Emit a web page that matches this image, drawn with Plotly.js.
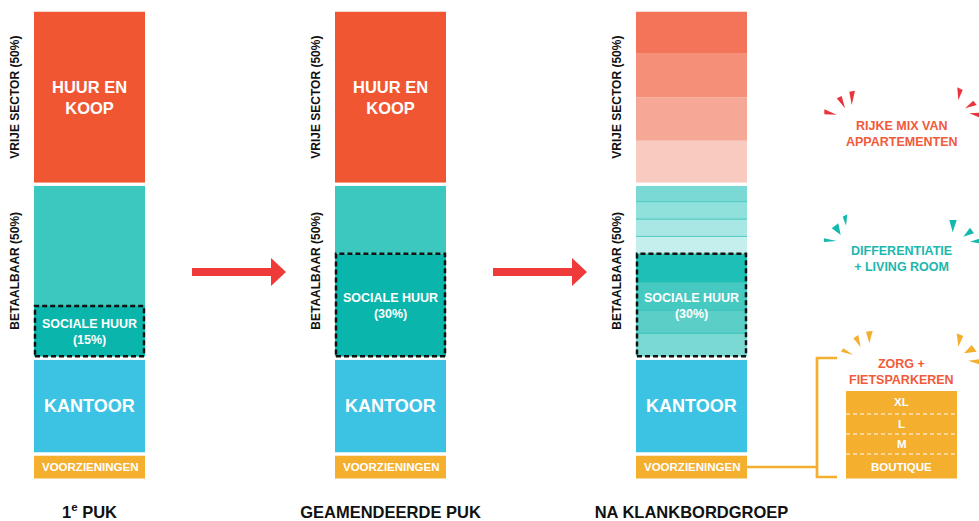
<!DOCTYPE html>
<html><head><meta charset="utf-8">
<script src="https://cdn.plot.ly/plotly-3.0.1.min.js"></script>
<style>html,body{margin:0;padding:0;background:#fff}#chart{width:979px;height:521px}</style>
</head><body><div id="chart"></div>
<script>
// ---------- data ----------
const COLUMNS = ['1<sup>e</sup> PUK', 'GEAMENDEERDE PUK', 'NA KLANKBORDGROEP'];
const VOORZIENINGEN = [7.5, 7.5, 7.5];
const KANTOOR = [27.5, 27.5, 27.5];
const BETAALBAAR = [50, 50, 50];
const SOCIALE_HUUR = [15, 30, 30];
const VRIJE_SECTOR = [50, 50, 50];
// split of the last column (bottom to top)
const NA_SOCIAAL_BANDS = [7.2, 6.6, 8, 8.2];
const NA_BETAALBAAR_BANDS = [5, 5, 5, 5];
const NA_VRIJE_BANDS = [12.5, 12.5, 12.5, 12.5];
const ZORG_LABELS = ['BOUTIQUE', 'M', 'L', 'XL'];
const ZORG_BANDS = [7.5, 5.75, 5.75, 7];
const VRIJE_TEXT = ['HUUR EN<br>KOOP', 'HUUR EN<br>KOOP', ''];
const SOCIAAL_TEXT = ['SOCIALE HUUR<br>(15%)', 'SOCIALE HUUR<br>(30%)', 'SOCIALE HUUR<br>(30%)'];
const KANTOOR_TEXT = 'KANTOOR';
const VOORZ_TEXT = 'VOORZIENINGEN';
const GROUP_LABELS = ['VRIJE SECTOR (50%)', 'BETAALBAAR (50%)'];
const INFO_LABELS = ['RIJKE MIX VAN<br>APPARTEMENTEN', 'DIFFERENTIATIE<br>+ LIVING ROOM', 'ZORG +<br>FIETSPARKEREN'];

// ---------- styling / layout ----------
const FONT = 'Liberation Sans, Arial, sans-serif';
const C = {
  red: '#F15633', teal: '#3DC8BF', social: '#0AB5AB', blue: '#3CC3E3', orange: '#F4AF2F',
  redBands: ['#F9CBC0', '#F6A897', '#F58F78', '#F37459'],
  tealBands: ['#C4EFEC', '#A8E7E3', '#90E0DC', '#7AD9D4'],
  socialBands: ['#7BD9D3', '#5BCFC7', '#46C9C0', '#1EC0B6'],
  arrow: '#EE3A39', burstRed: '#E8343B', burstTeal: '#15B8AE',
  infoRed: '#F15A3B', infoTeal: '#1DB7AD'
};
const PLOT_H = 480, PXU = 3.48, COLPX = 301, C0PX = 89.5;
const XR = [-C0PX / COLPX, (979 - C0PX) / COLPX];
const px2x = p => (p - C0PX) / COLPX;
const px2y = p => (PLOT_H - p) / PXU;
const dx = p => p / COLPX, dy = p => p / PXU;
const BAR_W = dx(114);
const INFO_X = px2x(901.5);

const traces = [];
const shapes = [];
const annotations = [];
function seg(x, base, h, color, line) {
  traces.push({type: 'bar', x: [x], y: [h], base: [base], width: [BAR_W],
    marker: {color: color, line: line || {width: 0}}, hoverinfo: 'skip', showlegend: false});
}
function outline(x, base, h) {
  traces.push({type: 'bar', x: [x], y: [h], base: [base], width: [BAR_W],
    marker: {color: 'rgba(0,0,0,0)', line: {color: '#ffffff', width: 3}}, hoverinfo: 'skip', showlegend: false});
}
function stackBands(x, base, bands, colors, line) {
  let b = base;
  bands.forEach((h, k) => { seg(x, b, h, colors[k], line); b += h; });
}
function label(x, y, text, size, color, extra) {
  annotations.push(Object.assign({x: x, y: y, xref: 'x', yref: 'y', text: text, showarrow: false,
    font: {family: FONT, size: size, color: color, weight: 'bold'}}, extra || {}));
}

COLUMNS.forEach((name, i) => {
  const b1 = VOORZIENINGEN[i];
  const b2 = b1 + KANTOOR[i];
  const b3 = b2 + BETAALBAAR[i];
  seg(i, 0, VOORZIENINGEN[i], C.orange);
  seg(i, b1, KANTOOR[i], C.blue);
  if (i < 2) {
    seg(i, b2, SOCIALE_HUUR[i], C.social);
    seg(i, b2 + SOCIALE_HUUR[i], BETAALBAAR[i] - SOCIALE_HUUR[i], C.teal);
    seg(i, b3, VRIJE_SECTOR[i], C.red);
  } else {
    stackBands(i, b2, NA_SOCIAAL_BANDS, C.socialBands, {color: '#3CC3BA', width: 1});
    stackBands(i, b2 + SOCIALE_HUUR[i], NA_BETAALBAAR_BANDS, C.tealBands, {color: '#55CCC4', width: 1});
    stackBands(i, b3, NA_VRIJE_BANDS, C.redBands);
  }
  outline(i, 0, VOORZIENINGEN[i]);
  outline(i, b1, KANTOOR[i]);
  outline(i, b2, BETAALBAAR[i]);
  outline(i, b3, VRIJE_SECTOR[i]);

  // dashed box around sociale huur
  shapes.push({type: 'rect', xref: 'x', yref: 'y',
    x0: i - BAR_W / 2 + dx(2.5), x1: i + BAR_W / 2 - dx(2.5),
    y0: b2 + dy(2), y1: b2 + SOCIALE_HUUR[i],
    line: {color: '#111111', width: 2.5, dash: '5px,3px'}, fillcolor: 'rgba(0,0,0,0)'});

  // in-bar labels
  label(i, b1 / 2, VOORZ_TEXT, 11.5, '#ffffff');
  label(i, b1 + KANTOOR[i] / 2, KANTOOR_TEXT, 18, '#ffffff');
  label(i, b2 + SOCIALE_HUUR[i] / 2, SOCIAAL_TEXT[i], 12.5, '#ffffff');
  if (VRIJE_TEXT[i]) label(i, b3 + VRIJE_SECTOR[i] / 2, VRIJE_TEXT[i], 16.5, '#ffffff');

  // rotated group labels
  label(i - BAR_W / 2, b3 + VRIJE_SECTOR[i] / 2, GROUP_LABELS[0], 12, '#111111', {textangle: -90, xshift: -17});
  label(i - BAR_W / 2, b2 + BETAALBAAR[i] / 2, GROUP_LABELS[1], 12, '#111111', {textangle: -90, xshift: -17});

  // arrows between columns
  if (i < COLUMNS.length - 1) {
    const s = i + dx(102.5), e = i + dx(181.5), t = i + dx(196.5);
    const yc = px2y(272);
    const p = [[s, yc + dy(4)], [e, yc + dy(4)], [e, yc + dy(14)], [t, yc], [e, yc - dy(14)], [e, yc - dy(4)], [s, yc - dy(4)]];
    shapes.push({type: 'path', xref: 'x', yref: 'y', path: 'M' + p.map(q => q[0] + ',' + q[1]).join('L') + 'Z',
      fillcolor: C.arrow, line: {width: 0}});
  }
});

// info column: zorg + fietsparkeren stack
stackBands(INFO_X, 0, ZORG_BANDS, ZORG_BANDS.map(() => C.orange));
const zorgTotal = ZORG_BANDS.reduce((a, b) => a + b, 0);
outline(INFO_X, 0, zorgTotal);
let zb = 0;
ZORG_BANDS.forEach((h, k) => {
  label(INFO_X, zb + h / 2, ZORG_LABELS[k], 11.5, '#ffffff');
  zb += h;
  if (k < ZORG_BANDS.length - 1) {
    shapes.push({type: 'line', xref: 'x', yref: 'y', x0: INFO_X - BAR_W / 2 + dx(1.5), x1: INFO_X + BAR_W / 2 - dx(1.5),
      y0: zb, y1: zb, line: {color: '#FBE3B8', width: 1.5, dash: '4px,3px'}});
  }
});

// info labels
label(INFO_X, px2y(134), INFO_LABELS[0], 12.5, C.infoRed);
label(INFO_X, px2y(259), INFO_LABELS[1], 12.5, C.infoTeal);
label(INFO_X, px2y(372), INFO_LABELS[2], 12.5, C.infoRed);

// bracket from voorzieningen to the zorg block
shapes.push({type: 'path', xref: 'x', yref: 'y', line: {color: C.orange, width: 2.7},
  path: 'M' + px2x(747) + ',' + px2y(467) + 'L' + px2x(817) + ',' + px2y(467) +
        'M' + px2x(837) + ',' + px2y(358) + 'L' + px2x(817) + ',' + px2y(358) + 'L' + px2x(817) + ',' + px2y(477) + 'L' + px2x(837) + ',' + px2y(477)});

// bursts (decorative wedges), pixel coordinates
const BURSTS = [
  {color: C.burstRed, tris: [
    [[824.3,109.3],[824.3,114.3],[836.7,114.7]], [[836.7,98.3],[841.7,96],[845,108.3]], [[849.3,91.7],[855,90.7],[851.7,105]],
    [[957.3,87.3],[962.7,90],[958.3,100]], [[973.3,100.7],[976.7,105],[965,108.3]], [[969.3,113.3],[980,112.7],[980,117.7]]]},
  {color: C.burstTeal, tris: [
    [[824,238.3],[824,242],[836.7,241]], [[831.7,228.3],[838.3,223.3],[840.7,235]], [[842.7,216.7],[847.3,214.3],[846,225.7]],
    [[949.3,220],[956.7,220],[952.7,232.3]], [[970,227.7],[974,233.3],[963.3,236.7]], [[970,241.7],[980,238.3],[980,243.3]]]},
  {color: C.orange, tris: [
    [[841,351.7],[843.3,348.3],[853.3,355]], [[853.3,338.3],[858.3,335],[860.7,347.3]], [[866,331.7],[872.7,330.7],[869.3,343.3]],
    [[956.7,333.3],[963.3,336],[958.3,346.7]], [[971.7,345],[976.7,351.7],[964,353.3]], [[968.3,360.7],[979,359.3],[979,364.3]]]}
];
BURSTS.forEach(b => b.tris.forEach(t => {
  shapes.push({type: 'path', xref: 'x', yref: 'y', fillcolor: b.color, line: {width: 0},
    path: 'M' + t.map(q => px2x(q[0]) + ',' + px2y(q[1])).join('L') + 'Z'});
}));

const layout = {
  width: 979, height: 521,
  margin: {l: 0, r: 0, t: 0, b: 521 - PLOT_H, pad: 0},
  paper_bgcolor: '#ffffff', plot_bgcolor: '#ffffff',
  font: {family: FONT, color: '#111111'},
  barmode: 'overlay',
  showlegend: false,
  xaxis: {range: XR, tickvals: [0, 1, 2], ticktext: COLUMNS, showgrid: false, zeroline: false, showline: false,
    ticks: '', ticklabelstandoff: 20, tickfont: {family: FONT, size: 16.5, color: '#111111', weight: 'bold'}, fixedrange: true},
  yaxis: {range: [0, PLOT_H / PXU], visible: false, fixedrange: true},
  shapes: shapes,
  annotations: annotations
};
Plotly.newPlot('chart', traces, layout, {displayModeBar: false, staticPlot: true});
</script>
</body></html>
